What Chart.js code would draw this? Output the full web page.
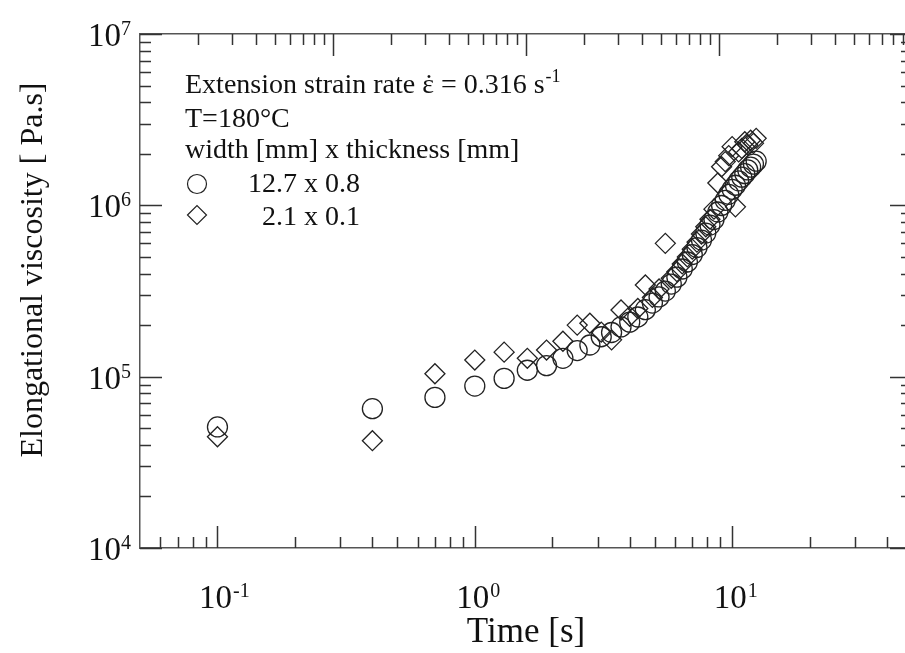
<!DOCTYPE html>
<html>
<head>
<meta charset="utf-8">
<script src="https://cdn.jsdelivr.net/npm/chart.js@4.4.1/dist/chart.umd.min.js"></script>
<style>
  html, body { margin: 0; padding: 0; background: #fff; overflow: hidden; }
  #wrap { width: 925px; height: 653px; }
</style>
</head>
<body>
<div id="wrap"><canvas id="chart" width="925" height="653"></canvas></div>
<script>
// measurement times [s]
const times = [0.1, 0.4, 0.7, 1.0, 1.3, 1.6, 1.9, 2.2, 2.5, 2.8,
  3.1, 3.4, 3.7, 4.0, 4.3, 4.6, 4.9, 5.2, 5.5, 5.8,
  6.1, 6.4, 6.7, 7.0, 7.3, 7.6, 7.9, 8.2, 8.5, 8.8,
  9.1, 9.4, 9.7, 10.0, 10.3, 10.6, 10.9, 11.2, 11.5, 11.8,
  12.1, 12.4];

// 12.7 x 0.8 sample (circles) [Pa.s]
const viscWide = [50900, 65000, 75700, 88100, 97700, 109000, 116000, 128000, 142000, 153000,
  171000, 181000, 195000, 208000, 223000, 246000, 269000, 292000, 316000, 347000,
  381000, 425000, 467000, 516000, 567000, 627000, 689000, 767000, 826000, 914000,
  998000, 1070000, 1160000, 1240000, 1310000, 1390000, 1460000, 1530000, 1610000, 1670000,
  1740000, 1810000];

// 2.1 x 0.1 sample (diamonds) [Pa.s]
const viscThin = [44600, 42300, 104000, 125000, 139000, 128000, 143000, 161000, 200000, 205000,
  182000, 164000, 245000, 225000, 250000, 343000, 290000, 325000, 600000, 375000,
  410000, 455000, 500000, 555000, 610000, 680000, 750000, 830000, 950000, 1350000,
  1680000, 1800000, 1950000, 2200000, 980000, 2050000, 2150000, 2350000, 2250000, 2400000,
  2300000, 2460000];

const seriesLabels = ['12.7 x 0.8', '2.1 x 0.1'];
const legendLines = ['Extension strain rate ', '\u03B5', ' = 0.316 s', '-1', 'T=180\u00B0C', 'width [mm] x thickness [mm]'];

// axis ticks
const xTickValues = [0.1, 1, 10];
const xTickExps = ['-1', '0', '1'];
const xMinorTicks = [0.06, 0.07, 0.08, 0.09, 0.2, 0.3, 0.4, 0.5, 0.6, 0.7, 0.8, 0.9,
  2, 3, 4, 5, 6, 7, 8, 9, 20, 30, 40];
const topMajorTicks = [10, 100, 1000];
const topMinorTicks = [2, 3, 4, 5, 6, 7, 8, 9, 20, 30, 40, 50, 60, 70, 80, 90,
  200, 300, 400, 500, 600, 700, 800, 900, 2000, 3000, 4000, 5000, 6000, 7000, 8000, 9000];
const yTickValues = [1e4, 1e5, 1e6, 1e7];
const yTickExps = ['4', '5', '6', '7'];
const yMinorTicks = [2e4, 3e4, 4e4, 5e4, 6e4, 7e4, 8e4, 9e4,
  2e5, 3e5, 4e5, 5e5, 6e5, 7e5, 8e5, 9e5,
  2e6, 3e6, 4e6, 5e6, 6e6, 7e6, 8e6, 9e6];

const SERIF = '"Liberation Serif", "Times New Roman", serif';
const INK = '#222';
const FRAME = '#555';

function toPoints(ys) {
  return times.map((t, i) => ({ x: t, y: ys[i] }));
}

function drawMarker(ctx, style, r, x, y) {
  ctx.beginPath();
  if (style === 'circle') {
    ctx.arc(x, y, r, 0, Math.PI * 2);
  } else {
    ctx.moveTo(x - r, y); ctx.lineTo(x, y - r); ctx.lineTo(x + r, y); ctx.lineTo(x, y + r);
    ctx.closePath();
  }
  ctx.stroke();
}

// inward ticks on all four sides
const axisTicksPlugin = {
  id: 'axisTicks',
  afterDraw(chart) {
    const { ctx, chartArea: a, scales } = chart;
    const MAJ = 22, MIN = 11;
    ctx.save();
    ctx.strokeStyle = '#333';
    ctx.lineWidth = 1.5;
    ctx.beginPath();
    const vx = (scale, vals, len, y0, dir) => vals.forEach(v => {
      const p = Math.round(scale.getPixelForValue(v)) + 0.5;
      ctx.moveTo(p, y0); ctx.lineTo(p, y0 + dir * len);
    });
    const vy = (scale, vals, len, x0, dir) => vals.forEach(v => {
      const p = Math.round(scale.getPixelForValue(v)) + 0.5;
      ctx.moveTo(x0, p); ctx.lineTo(x0 + dir * len, p);
    });
    vx(scales.x, xTickValues, MAJ, a.bottom, -1);
    vx(scales.x, xMinorTicks, MIN, a.bottom, -1);
    vx(scales.x2, topMajorTicks, MAJ, a.top, 1);
    vx(scales.x2, topMinorTicks, MIN, a.top, 1);
    vy(scales.y, yTickValues, MAJ, a.left, 1);
    vy(scales.y, yMinorTicks, MIN, a.left, 1);
    vy(scales.y2, yTickValues, MAJ, a.right, -1);
    vy(scales.y2, yMinorTicks, MIN, a.right, -1);
    ctx.stroke();
    ctx.restore();
  }
};

// power-of-ten labels, axis titles and the in-plot legend
const textPlugin = {
  id: 'texts',
  afterDraw(chart) {
    const { ctx, chartArea: a, scales } = chart;
    ctx.save();
    ctx.fillStyle = '#111';
    ctx.textBaseline = 'alphabetic';
    ctx.textAlign = 'left';

    const baseFont = '33px ' + SERIF;
    const expFont = '20px ' + SERIF;

    yTickValues.forEach((v, i) => {
      const p = scales.y.getPixelForValue(v);
      ctx.font = expFont;
      const ew = ctx.measureText(yTickExps[i]).width;
      ctx.font = baseFont;
      const bw = ctx.measureText('10').width;
      const right = a.left - 9;
      ctx.fillText('10', right - ew - bw, p + 12);
      ctx.font = expFont;
      ctx.fillText(yTickExps[i], right - ew, p + 1);
    });

    xTickValues.forEach((v, i) => {
      const p = scales.x.getPixelForValue(v);
      ctx.font = baseFont;
      const bw = ctx.measureText('10').width;
      ctx.fillText('10', p - bw / 2 - 2, a.bottom + 60);
      ctx.font = expFont;
      ctx.fillText(xTickExps[i], p + bw / 2 - 1, a.bottom + 49);
    });

    // axis titles
    ctx.font = '35px ' + SERIF;
    ctx.textAlign = 'center';
    ctx.textBaseline = 'middle';
    ctx.fillText('Time [s]', (a.left + a.right) / 2, 633);
    ctx.save();
    ctx.translate(34, 270);
    ctx.rotate(-Math.PI / 2);
    ctx.font = '32px ' + SERIF;
    ctx.fillText('Elongational viscosity [ Pa.s]', 0, 0);
    ctx.restore();

    // legend
    ctx.textAlign = 'left';
    ctx.textBaseline = 'alphabetic';
    const lf = '28px ' + SERIF;
    ctx.font = lf;
    const lx = a.left + 45;
    let cx = lx;
    ctx.fillText(legendLines[0], cx, 93);
    cx += ctx.measureText(legendLines[0]).width;
    ctx.fillText(legendLines[1], cx, 93);
    const epsW = ctx.measureText(legendLines[1]).width;
    ctx.textAlign = 'center';
    ctx.fillText('\u02D9', cx + epsW / 2 + 1, 93);
    ctx.textAlign = 'left';
    cx += epsW;
    ctx.fillText(legendLines[2], cx, 93);
    cx += ctx.measureText(legendLines[2]).width;
    ctx.font = '18px ' + SERIF;
    ctx.fillText(legendLines[3], cx + 1, 82);
    ctx.font = lf;
    ctx.fillText(legendLines[4], lx, 127);
    ctx.fillText(legendLines[5], lx, 158);
    ctx.fillText(seriesLabels[0], 248, 192);
    ctx.fillText(seriesLabels[1], 262, 225);

    ctx.strokeStyle = INK;
    ctx.lineWidth = 1.2;
    drawMarker(ctx, 'circle', 9.5, 197, 184);
    drawMarker(ctx, 'diamond', 9.5, 197, 215);
    ctx.restore();
  }
};

const hiddenAxis = {
  type: 'logarithmic',
  ticks: { display: false },
  grid: { display: false, drawTicks: false },
  border: { display: true, color: FRAME, width: 1.5 }
};

new Chart(document.getElementById('chart'), {
  type: 'scatter',
  data: {
    datasets: [
      {
        label: seriesLabels[0],
        data: toPoints(viscWide),
        pointStyle: 'circle',
        pointRadius: 10,
        borderColor: INK,
        backgroundColor: 'rgba(0,0,0,0)',
        borderWidth: 1.3
      },
      {
        label: seriesLabels[1],
        data: toPoints(viscThin),
        pointStyle: 'rectRot',
        pointRadius: 10,
        borderColor: INK,
        backgroundColor: 'rgba(0,0,0,0)',
        borderWidth: 1.3
      }
    ]
  },
  options: {
    responsive: false,
    animation: false,
    events: [],
    layout: { padding: { top: 34, right: 13, left: 0, bottom: 0 } },
    scales: {
      x: { ...hiddenAxis, position: 'bottom', min: 0.05, max: 50, afterFit: s => { s.height = 105; } },
      x2: { ...hiddenAxis, position: 'top', min: 1, max: 10000, afterFit: s => { s.height = 0; } },
      y: { ...hiddenAxis, position: 'left', min: 1e4, max: 1e7, afterFit: s => { s.width = 140; } },
      y2: { ...hiddenAxis, position: 'right', min: 1e4, max: 1e7, afterFit: s => { s.width = 0; } }
    },
    plugins: {
      legend: { display: false },
      tooltip: { enabled: false }
    }
  },
  plugins: [axisTicksPlugin, textPlugin]
});
</script>
</body>
</html>
